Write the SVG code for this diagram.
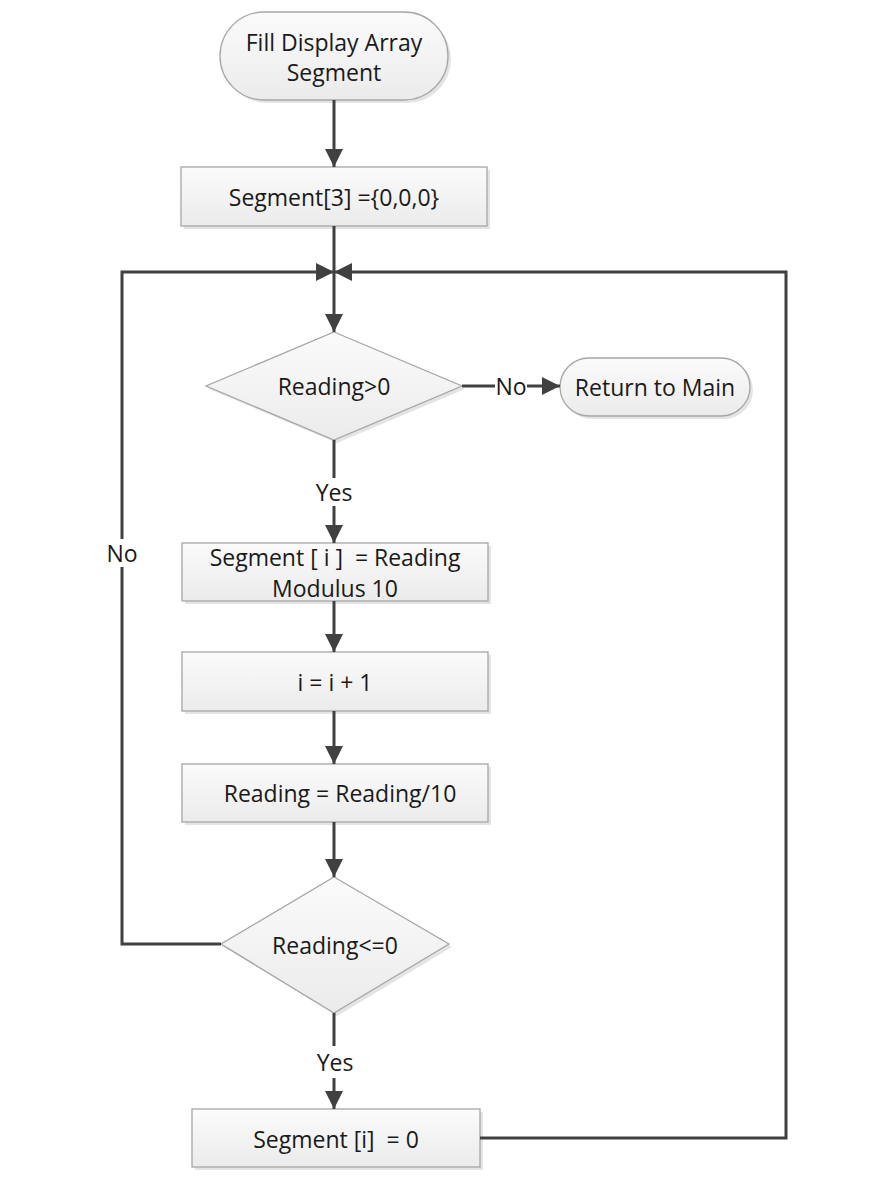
<svg xmlns="http://www.w3.org/2000/svg" width="872" height="1198" viewBox="0 0 872 1198">
<style>
.shape{fill:url(#g);stroke:#a6a6a6;stroke-width:1.3}
.sh{fill:#d9d9d9;opacity:0.7}
.t{font-family:"Open Sans","Liberation Sans",sans-serif;font-size:23px;fill:#1a1a1a;text-anchor:middle;dominant-baseline:central;white-space:pre}
.c{fill:none;stroke:#404040;stroke-width:3}
.lbl{fill:#ffffff}
</style>
<defs>
<linearGradient id="g" x1="0" y1="0" x2="0" y2="1">
<stop offset="0" stop-color="#fbfbfb"/>
<stop offset="1" stop-color="#ebebeb"/>
</linearGradient>
<marker id="a" viewBox="0 0 10 10" refX="10" refY="5" markerWidth="6" markerHeight="6" orient="auto" markerUnits="strokeWidth">
<path d="M0,0 L10,5 L0,10 z" fill="#404040"/>
</marker>
</defs>
<g id="start">
<rect class="sh" x="223" y="15" width="228" height="88" rx="44"/>
<rect class="shape" x="220" y="12" width="228" height="88" rx="44"/>
<text class="t" x="334" y="42">Fill Display Array</text>
<text class="t" x="334" y="72">Segment</text>
</g>
<g id="init">
<rect class="sh" x="184" y="170" width="306" height="59"/>
<rect class="shape" x="181" y="167" width="306" height="59"/>
<text class="t" x="334" y="197">Segment[3] ={0,0,0}</text>
</g>
<g id="dec1">
<polygon class="sh" points="337,335 465,389 337,443 209,389"/>
<polygon class="shape" points="334,332 462,386 334,440 206,386"/>
<text class="t" x="334" y="386">Reading&gt;0</text>
</g>
<g id="ret">
<rect class="sh" x="563" y="361" width="190" height="58" rx="29"/>
<rect class="shape" x="560" y="358" width="190" height="58" rx="29"/>
<text class="t" x="655" y="387">Return to Main</text>
</g>
<g id="mod">
<rect class="sh" x="185" y="546" width="306" height="58"/>
<rect class="shape" x="182" y="543" width="306" height="58"/>
<text class="t" x="335" y="557" xml:space="preserve">Segment [ i ]  = Reading</text>
<text class="t" x="335" y="588">Modulus 10</text>
</g>
<g id="inc">
<rect class="sh" x="185" y="655" width="306" height="59"/>
<rect class="shape" x="182" y="652" width="306" height="59"/>
<text class="t" x="335" y="682">i = i + 1</text>
</g>
<g id="div">
<rect class="sh" x="185" y="767" width="306" height="58"/>
<rect class="shape" x="182" y="764" width="306" height="58"/>
<text class="t" x="340" y="793">Reading = Reading/10</text>
</g>
<g id="dec2">
<polygon class="sh" points="337,880 452,947 337,1016 224,947"/>
<polygon class="shape" points="334,877 449,944 334,1013 221,944"/>
<text class="t" x="335" y="945">Reading&lt;=0</text>
</g>
<g id="zero">
<rect class="sh" x="195" y="1112" width="288" height="58"/>
<rect class="shape" x="192" y="1109" width="288" height="58"/>
<text class="t" x="336" y="1139" xml:space="preserve">Segment [i]  = 0</text>
</g>
<g id="connectors">
<line class="c" x1="334" y1="100" x2="334" y2="167" marker-end="url(#a)"/>
<line class="c" x1="334" y1="226" x2="334" y2="332" marker-end="url(#a)"/>
<polyline class="c" points="221,944 122,944 122,272 334,272" marker-end="url(#a)"/>
<polyline class="c" points="480,1138 786,1138 786,272 334,272" marker-end="url(#a)"/>
<line class="c" x1="462" y1="386" x2="560" y2="386" marker-end="url(#a)"/>
<rect class="lbl" x="495" y="373" width="32" height="26"/>
<text class="t" x="511" y="386">No</text>
<line class="c" x1="334" y1="440" x2="334" y2="543" marker-end="url(#a)"/>
<rect class="lbl" x="310" y="478" width="48" height="28"/>
<text class="t" x="334" y="492">Yes</text>
<line class="c" x1="334" y1="601" x2="334" y2="652" marker-end="url(#a)"/>
<line class="c" x1="334" y1="711" x2="334" y2="764" marker-end="url(#a)"/>
<line class="c" x1="334" y1="822" x2="334" y2="877" marker-end="url(#a)"/>
<line class="c" x1="334" y1="1013" x2="334" y2="1109" marker-end="url(#a)"/>
<rect class="lbl" x="310" y="1046" width="48" height="32"/>
<text class="t" x="335" y="1062">Yes</text>
<rect class="lbl" x="104" y="539" width="36" height="28"/>
<text class="t" x="122" y="553">No</text>
</g>
</svg>
